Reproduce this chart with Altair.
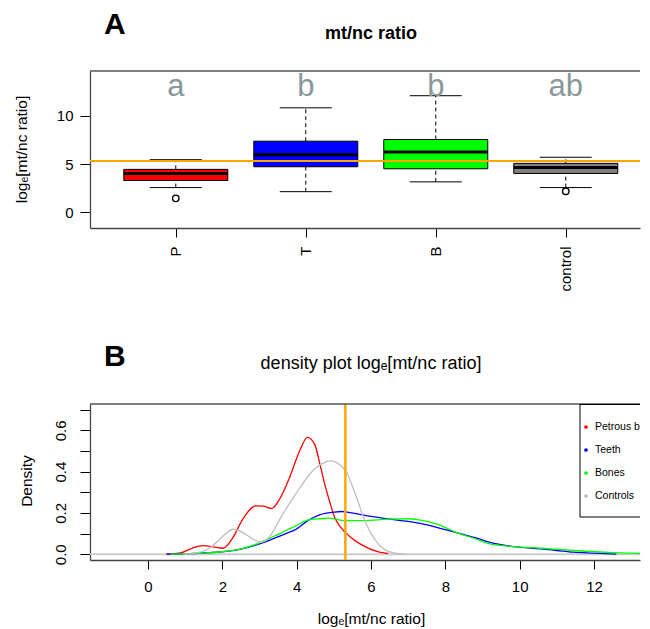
import json
import altair as alt
import pandas as pd

FONT = "Liberation Sans"
W = 550
HA = 157
HB = 156

# ---------------- Panel A: box plot summaries ----------------
groups = ["P", "T", "B", "control"]
group_pos = [1, 2, 3, 4]
box_colors = ["#FF0000", "#0000FF", "#00FF00", "#808080"]
q1 = [3.30, 4.72, 4.51, 4.03]
median = [4.03, 5.97, 6.25, 4.65]
q3 = [4.45, 7.36, 7.53, 5.07]
whisker_low = [2.57, 2.15, 3.16, 2.57]
whisker_high = [5.45, 10.80, 12.05, 5.70]
outlier_group = ["P", "control"]
outlier_value = [1.46, 2.19]
letters = ["a", "b", "b", "ab"]
letter_level = [12.0, 12.0, 12.0, 12.0]
threshold = 5.31

ya_ticks = [0, 5, 10]
ya_domain = [-1.6, 14.6]
xa_domain = [0.34, 4.571]

# ---------------- Panel B: density curves ----------------
petrous_x = [0.5, 0.9, 1.2, 1.48, 1.75, 2.02, 2.3, 2.55, 2.9, 3.1, 3.33, 3.55, 3.82, 4.09,
             4.29, 4.49, 4.63, 4.76, 4.9, 5.03, 5.17, 5.3, 5.57, 5.84, 6.11, 6.46]
petrous_y = [0.0, 0.008, 0.03, 0.042, 0.036, 0.029, 0.085, 0.17, 0.234, 0.233, 0.222, 0.27,
             0.377, 0.505, 0.566, 0.53, 0.433, 0.336, 0.247, 0.175, 0.134, 0.107, 0.066,
             0.037, 0.016, 0.003]
teeth_x = [0.5, 1.0, 1.5, 2.0, 2.5, 3.0, 3.28, 3.55, 3.82, 3.95, 4.3, 4.63, 5.0, 5.21, 5.52,
           6.0, 6.46, 7.0, 7.32, 8.0, 8.3, 8.8, 9.2, 9.83, 10.55, 11.0, 11.45, 12.0, 12.6]
teeth_y = [0.0, 0.002, 0.006, 0.012, 0.025, 0.05, 0.068, 0.088, 0.108, 0.118, 0.163, 0.192,
           0.204, 0.207, 0.199, 0.183, 0.171, 0.159, 0.15, 0.119, 0.105, 0.08, 0.057, 0.037,
           0.026, 0.018, 0.01, 0.005, 0.0]
bones_x = [0.6, 1.5, 2.0, 2.5, 3.0, 3.28, 3.55, 3.82, 3.95, 4.3, 4.63, 4.85, 5.3, 5.8, 6.46,
           7.0, 7.3, 7.8, 8.3, 8.8, 9.2, 9.83, 10.55, 11.45, 12.5, 13.0, 13.51]
bones_y = [0.0, 0.005, 0.012, 0.026, 0.055, 0.078, 0.1, 0.124, 0.135, 0.165, 0.172, 0.175,
           0.163, 0.163, 0.17, 0.172, 0.166, 0.145, 0.105, 0.075, 0.05, 0.037, 0.029, 0.018,
           0.008, 0.005, 0.002]
controls_x = [0.95, 1.4, 1.7, 2.0, 2.3, 2.6, 2.85, 3.05, 3.28, 3.55, 3.82, 3.95, 4.36, 4.49,
              4.7, 4.9, 5.3, 5.57, 5.84, 6.11, 6.38, 6.65, 6.9]
controls_y = [0.0, 0.01, 0.035, 0.085, 0.121, 0.1, 0.07, 0.058, 0.087, 0.17, 0.25, 0.285,
              0.39, 0.415, 0.44, 0.452, 0.409, 0.296, 0.159, 0.07, 0.021, 0.005, 0.0]

legend_labels = ["Petrous bones", "Teeth", "Bones", "Controls"]
legend_colors = ["#FF0000", "#0000FF", "#00FF00", "#BEBEBE"]
series_x = [petrous_x, teeth_x, bones_x, controls_x]
series_y = [petrous_y, teeth_y, bones_y, controls_y]

xb_ticks = [0, 2, 4, 6, 8, 10, 12]
yb_ticks = [0.0, 0.1, 0.2, 0.3, 0.4, 0.5, 0.6, 0.7]
xb_domain = [-1.56, 13.236]
yb_domain = [-0.028, 0.728]

one_df = pd.DataFrame({"k": [0]})

# ---------------- scales / axes ----------------
XS_A = alt.Scale(domain=xa_domain, nice=False, zero=False)
YS_A = alt.Scale(domain=ya_domain, nice=False, zero=False)
AX_XA = alt.Axis(values=group_pos, labelExpr=f"{json.dumps(groups)}[datum.value - 1]",
                 labelAngle=270, labelAlign="right", labelBaseline="middle",
                 tickSize=9, labelPadding=9, title=None, labelOverlap=False, labelFlush=False)
AX_YA = alt.Axis(values=ya_ticks, tickSize=10, labelPadding=7, labelOverlap=False,
                 labelFlush=False, title="logₑ[mt/nc ratio]", titleAngle=270,
                 titleX=-68.5, titleY=78, titleAlign="center", titleBaseline="middle")

XS_B = alt.Scale(domain=xb_domain, nice=False, zero=False)
YS_B = alt.Scale(domain=yb_domain, nice=False, zero=False)
AX_XB = alt.Axis(values=xb_ticks, format="d", tickSize=9, labelPadding=10, labelOverlap=False,
                 labelFlush=False, title="logₑ[mt/nc ratio]", titleX=281, titleY=58,
                 titleAlign="center", titleBaseline="middle")
AX_YB = alt.Axis(values=yb_ticks,
                 labelExpr="(round(datum.value * 10) % 2 == 0) ? format(datum.value, '.1f') : ''",
                 labelAngle=270, labelAlign="center", labelBaseline="bottom",
                 tickSize=10, labelPadding=12, labelOverlap=False, labelFlush=False,
                 title="Density", titleAngle=270, titleX=-63.5, titleY=76.5,
                 titleAlign="center", titleBaseline="middle")


def XA(f):
    return alt.X(f, type="quantitative", scale=XS_A, axis=AX_XA)


def YA(f):
    return alt.Y(f, type="quantitative", scale=YS_A, axis=AX_YA)


def XB(f):
    return alt.X(f, type="quantitative", scale=XS_B, axis=AX_XB)


def YB(f):
    return alt.Y(f, type="quantitative", scale=YS_B, axis=AX_YB)


def pin(px, py):
    return alt.Chart(one_df).mark_point(size=1, opacity=0, filled=True).encode(
        x=alt.value(px), y=alt.value(py))


# ---------------- Panel A ----------------
box_df = pd.DataFrame({"group": groups, "pos": group_pos, "color": box_colors, "q1": q1,
                       "median": median, "q3": q3, "wlo": whisker_low, "whi": whisker_high})
base_a = alt.Chart(box_df).transform_calculate(
    bl="datum.pos - 0.4", br="datum.pos + 0.4", cl="datum.pos - 0.2", cr="datum.pos + 0.2")

whisk_lo = base_a.mark_rule(color="black", strokeWidth=1, strokeDash=[4, 3]).encode(
    x=XA("pos"), y=YA("wlo"), y2="q1:Q")
whisk_hi = base_a.mark_rule(color="black", strokeWidth=1, strokeDash=[4, 3]).encode(
    x=XA("pos"), y=YA("q3"), y2="whi:Q")
cap_lo = base_a.mark_rule(color="black", strokeWidth=1).encode(
    x=XA("cl"), x2="cr:Q", y=YA("wlo"))
cap_hi = base_a.mark_rule(color="black", strokeWidth=1).encode(
    x=XA("cl"), x2="cr:Q", y=YA("whi"))
boxes = base_a.mark_rect(stroke="black", strokeWidth=1).encode(
    x=XA("bl"), x2="br:Q", y=YA("q1"), y2="q3:Q", color=alt.Color("color:N", scale=None))
medians = base_a.mark_rule(color="black", strokeWidth=3).encode(
    x=XA("bl"), x2="br:Q", y=YA("median"))

out_df = pd.DataFrame({"group": outlier_group, "value": outlier_value,
                       "pos": [group_pos[groups.index(g)] for g in outlier_group]})
outliers = alt.Chart(out_df).mark_point(shape="circle", filled=False, color="black",
                                        strokeWidth=1.4, size=42, opacity=1).encode(
    x=XA("pos"), y=YA("value"))

thr_a = alt.Chart(pd.DataFrame({"thr": [threshold]})).mark_rule(
    color="#FFA500", strokeWidth=2).encode(y=YA("thr"))

letter_df = pd.DataFrame({"pos": group_pos, "letter": letters, "level": letter_level})
letter_marks = alt.Chart(letter_df).mark_text(fontSize=31, color="#8B9898",
                                              baseline="alphabetic", align="center").encode(
    x=XA("pos"), y=YA("level"), text="letter:N")

top_a = alt.Chart(one_df).mark_rule(color="#555555", strokeWidth=1.5).encode(
    x=alt.value(0), x2=alt.value(W), y=alt.value(0))
tag_a = alt.Chart(pd.DataFrame({"t": ["A"]})).mark_text(
    fontSize=30, fontWeight="bold", align="left", baseline="alphabetic").encode(
    x=alt.value(14), y=alt.value(-37), text="t:N")
title_a = alt.Chart(pd.DataFrame({"t": ["mt/nc ratio"]})).mark_text(
    fontSize=18, fontWeight="bold", align="center", baseline="alphabetic").encode(
    x=alt.value(281), y=alt.value(-32), text="t:N")

panel_a = alt.layer(
    whisk_lo, whisk_hi, cap_lo, cap_hi, boxes, medians, outliers, thr_a, letter_marks,
    top_a, tag_a, title_a, pin(-81.5, -62), pin(-81.5, 260)
).properties(width=W, height=HA)

# ---------------- Panel B ----------------
zero_line = alt.Chart(pd.DataFrame({"z": [0.0]})).mark_rule(
    color="#CCCCCC", strokeWidth=2).encode(y=YB("z"))
curves = []
for xs, ys, col in zip(series_x, series_y, legend_colors):
    df = pd.DataFrame({"x": xs, "y": ys})
    curves.append(alt.Chart(df).mark_line(color=col, strokeWidth=1.3, interpolate="monotone",
                                          clip=True).encode(x=XB("x"), y=YB("y")))
thr_b = alt.Chart(pd.DataFrame({"thr": [threshold]})).mark_rule(
    color="#FFA500", strokeWidth=2.5).encode(x=XB("thr"))
top_b = alt.Chart(one_df).mark_rule(color="#555555", strokeWidth=1.5).encode(
    x=alt.value(0), x2=alt.value(W), y=alt.value(0))
tag_b = alt.Chart(pd.DataFrame({"t": ["B"]})).mark_text(
    fontSize=30, fontWeight="bold", align="left", baseline="alphabetic").encode(
    x=alt.value(14), y=alt.value(-38), text="t:N")
title_b = alt.Chart(pd.DataFrame({"t": ["density plot logₑ[mt/nc ratio]"]})).mark_text(
    fontSize=18, align="center", baseline="alphabetic").encode(
    x=alt.value(281), y=alt.value(-35), text="t:N")

main_b = alt.layer(zero_line, *curves, thr_b, top_b, tag_b, title_b,
                   pin(-81.5, -71), pin(-81.5, 218))

leg_df = pd.DataFrame({"label": legend_labels, "color": legend_colors})
LY = alt.Y("label:N", scale=alt.Scale(type="point", domain=legend_labels, range=[23, 92],
                                      padding=0), axis=None)
# legend frame: left, top and bottom edges (its right side runs past the plot edge)
leg_bg = alt.Chart(one_df).mark_rect(fill="white", strokeWidth=0).encode(
    x=alt.value(490), x2=alt.value(W), y=alt.value(0), y2=alt.value(113))
leg_left = alt.Chart(one_df).mark_rule(color="black", strokeWidth=1).encode(
    x=alt.value(490), y=alt.value(0), y2=alt.value(113))
leg_bottom = alt.Chart(one_df).mark_rule(color="black", strokeWidth=1).encode(
    x=alt.value(490), x2=alt.value(W), y=alt.value(113))
leg_top = alt.Chart(one_df).mark_rule(color="black", strokeWidth=1).encode(
    x=alt.value(490), x2=alt.value(W), y=alt.value(0.5))
leg_dots = alt.Chart(leg_df).mark_point(filled=True, size=14, opacity=1).encode(
    x=alt.value(496), y=LY, color=alt.Color("color:N", scale=None))
leg_text = alt.Chart(leg_df).mark_text(align="left", baseline="middle", fontSize=10.5,
                                       clip=True).encode(
    x=alt.value(505), y=LY, text="label:N")
legend_layer = alt.layer(leg_bg, leg_left, leg_bottom, leg_top, leg_dots, leg_text)

panel_b = alt.layer(main_b, legend_layer).resolve_scale(y="independent").properties(
    width=W, height=HB)

chart = alt.vconcat(panel_a, panel_b, spacing=0).properties(padding=0).configure(
    font=FONT).configure_view(strokeWidth=0).configure_axis(
    labelFont=FONT, titleFont=FONT, labelColor="black", titleColor="black",
    tickColor="black", domainColor="#444444", domainWidth=1.3, grid=False,
    labelFontSize=15, titleFontSize=15.5, titleFontWeight="normal")

chart.save("out.html", embed_options={"renderer": "svg", "actions": False})
